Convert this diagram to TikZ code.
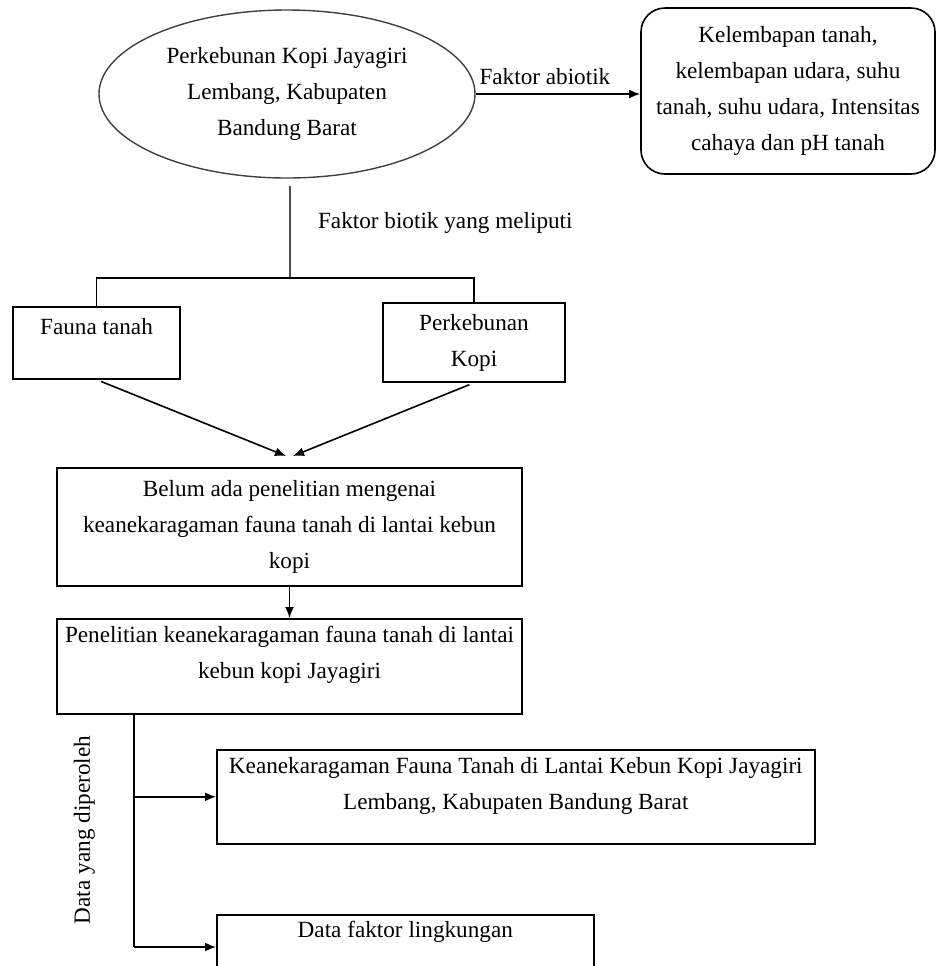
\documentclass[tikz,border=0pt]{standalone}
\usepackage{fontspec}
\setmainfont{Liberation Serif}
\usetikzlibrary{shapes.geometric,arrows.meta}

\begin{document}
\begin{tikzpicture}[x=0.5pt, y=-0.5pt, font=\fontsize{11.6}{18}\selectfont]
	\useasboundingbox (0,0) rectangle (937,966);
	\clip (0,0) rectangle (937,966);
	% Define styles
	\tikzstyle{box}=[rectangle, draw=black, line width=0.8pt, align=center, inner sep=0pt]
	\tikzstyle{oval}=[ellipse, draw=black!75, line width=0.7pt, align=center, inner sep=0pt, minimum width=188pt, minimum height=84pt]
	\tikzstyle{soft}=[box, rounded corners=12pt]
	\tikzstyle{link}=[line width=0.8pt]
	\tikzstyle{arr}=[link, -{Latex[length=5.5pt,width=4.5pt]}]

	\node[oval] (site) at (287,94) {Perkebunan Kopi Jayagiri\\Lembang, Kabupaten\\Bandung Barat};
	\node[soft, minimum width=147pt, minimum height=83pt] (abiotik) at (788,91) {Kelembapan tanah,\\kelembapan udara, suhu\\tanah, suhu udara, Intensitas\\cahaya dan pH tanah};

	\node[box, anchor=north, minimum width=83.5pt, text height=14pt, text depth=22pt] (fauna) at (96.5,306) {Fauna tanah};
	\node[box, minimum width=91pt, minimum height=39.5pt] (kopi) at (474,342.5) {Perkebunan\\Kopi};

	\node[box, anchor=north, minimum width=232.5pt, minimum height=59pt] (belum) at (289.5,467) {Belum ada penelitian mengenai\\keanekaragaman fauna tanah di lantai kebun\\kopi};
	\node[box, anchor=north, minimum width=232.5pt, text height=30pt, text depth=17.5pt] (penelitian) at (289.5,618) {Penelitian keanekaragaman fauna tanah di lantai\\kebun kopi Jayagiri};

	\node[box, anchor=north west, minimum width=299pt, text height=30pt, text depth=17pt] (hasil) at (216,749) {Keanekaragaman Fauna Tanah di Lantai Kebun Kopi Jayagiri\\Lembang, Kabupaten Bandung Barat};
	\node[box, anchor=north west, minimum width=188.5pt, text height=11.5pt, text depth=21.5pt] (lingk) at (216,914) {Data faktor lingkungan};

	% abiotic branch
	\draw[arr] (site.east) -- (site.east -| abiotik.west)
		node[pos=0, anchor=south west, inner xsep=1.5pt, inner ysep=4pt] (abiotikLbl) {Faktor abiotik};

	% biotic branch
	\coordinate (fork) at (290,278);
	\draw[link, draw=black!70, shorten <=3.5pt] (site.south -| fork) -- (fork);
	\node[anchor=base west] (biotikLbl) at (311,228) {Faktor biotik yang meliputi};
	\draw[link] (fauna.north) |- (fork) -| (kopi.north);

	\draw[arr, shorten <=2.5pt] (fauna.south) -- ([xshift=-1.75pt, yshift=5.5pt]belum.north);
	\draw[arr, shorten <=2.5pt] (kopi.south) -- ([xshift=1.75pt, yshift=5.5pt]belum.north);
	\draw[arr] (belum) -- (penelitian);

	% results
	\coordinate (trunk) at (134,947);
	\draw[link] (penelitian.south -| trunk) -- (trunk);
	\draw[arr] (trunk |- hasil.west) -- (hasil.west);
	\draw[arr] (trunk) -- (trunk -| lingk.west);
	\node[rotate=90, anchor=base] (dataLbl) at (90,830) {Data yang diperoleh};
\end{tikzpicture}
\end{document}
